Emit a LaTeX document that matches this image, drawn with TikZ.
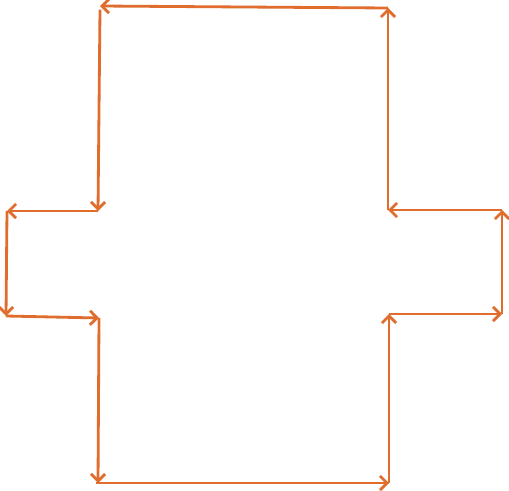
\documentclass[tikz,border=0pt]{standalone}
\usepackage{xcolor}
\usepackage{tikz}
\usetikzlibrary{arrows.meta}
\definecolor{edgeorange}{HTML}{E06C2E}
\tikzstyle{line} = [draw, edgeorange, line width=1.6pt,
    -{Straight Barb[length=4pt,width=8pt]}]

\begin{document}
\begin{tikzpicture}[x=0.02cm, y=-0.02cm]
        \useasboundingbox (0,0) rectangle (509,490);
        % Corners
        \coordinate (topleft) at (100,6);
        \coordinate (topright) at (388,8);
        \coordinate (leftin) at (98,211);
        \coordinate (leftout) at (7,211);
        \coordinate (leftoutlow) at (6,316);
        \coordinate (leftinlow) at (99,318);
        \coordinate (bottomleft) at (98,483);
        \coordinate (bottomright) at (389,483);
        \coordinate (rightinlow) at (389,314);
        \coordinate (rightoutlow) at (502,314);
        \coordinate (rightout) at (502,210);
        \coordinate (rightin) at (388,210);

        % Connections
        \path [line] (topright) -- (topleft);
        \path [line] ([yshift=-2]topleft) -- (leftin);
        \path [line] (leftin) -- (leftout);
        \path [line] (leftout) -- (leftoutlow);
        \path [line] (leftoutlow) -- (leftinlow);
        \path [line] (leftinlow) -- (bottomleft);
        \path [line] ([xshift=-1]bottomleft) -- (bottomright);
        \path [line] (bottomright) -- (rightinlow);
        \path [line] (rightinlow) -- (rightoutlow);
        \path [line] (rightoutlow) -- (rightout);
        \path [line] (rightout) -- (rightin);
        \path [line] (rightin) -- (topright);
    \end{tikzpicture}
\end{document}
